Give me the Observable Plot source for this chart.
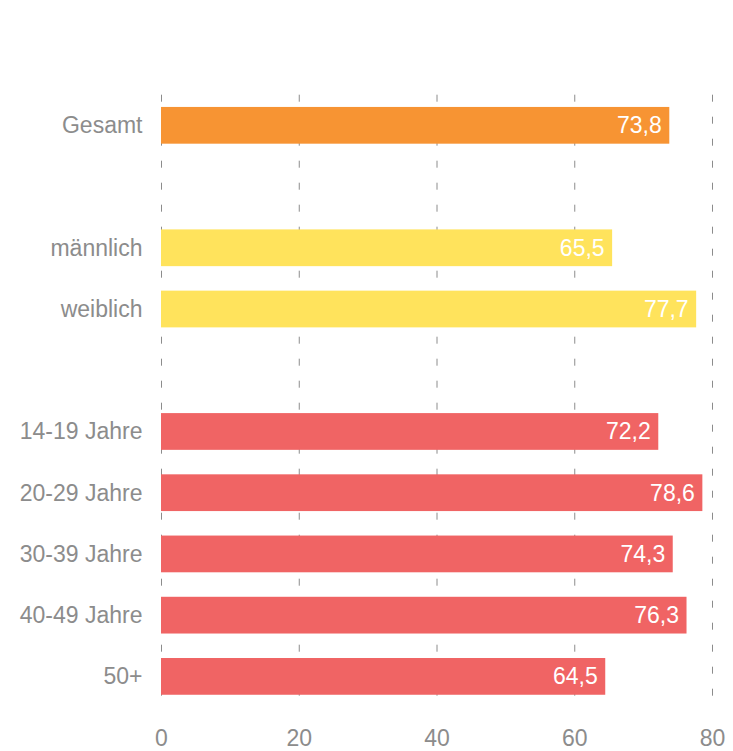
<!DOCTYPE html>
<html><head><meta charset="utf-8">
<script src="https://cdn.jsdelivr.net/npm/d3@7"></script>
<script src="https://cdn.jsdelivr.net/npm/@observablehq/plot@0.6"></script>
<style>
html,body{margin:0;padding:0;background:#fff;}
#chart svg{display:block;}
</style>
</head><body><div id="chart"></div>
<script>
const categories = ["Gesamt", "gap1", "männlich", "weiblich", "gap2", "14-19 Jahre", "20-29 Jahre", "30-39 Jahre", "40-49 Jahre", "50+"];
const barCategories = ["Gesamt", "männlich", "weiblich", "14-19 Jahre", "20-29 Jahre", "30-39 Jahre", "40-49 Jahre", "50+"];
const values = [73.8, 65.5, 77.7, 72.2, 78.6, 74.3, 76.3, 64.5];
const groups = ["gesamt", "geschlecht", "geschlecht", "alter", "alter", "alter", "alter", "alter"];
const xTicks = [0, 20, 40, 60, 80];

const data = barCategories.map((c, i) => ({cat: c, value: values[i], group: groups[i]}));
const fmt = v => v.toFixed(1).replace(".", ",");
const yFmt = d => d.startsWith("gap") ? "" : d;

const chart = Plot.plot({
  width: 733,
  height: 751,
  marginTop: 94.7,
  marginBottom: 44,
  marginLeft: 161,
  marginRight: 21,
  style: {fontFamily: "'Liberation Sans', Arial, sans-serif", fontSize: "23px", color: "#8c8c8c", overflow: "visible"},
  x: {domain: [0, 80], ticks: xTicks, label: null},
  y: {domain: categories, label: null, paddingInner: 0.4, paddingOuter: 0.2, round: false},
  color: {domain: ["gesamt", "geschlecht", "alter"], range: ["#F79433", "#FFE35C", "#F06464"]},
  marks: [
    Plot.gridX(xTicks, {stroke: "#8c8c8c", strokeOpacity: 1, strokeWidth: 1, strokeDasharray: "7,15"}),
    Plot.barX(data, {x: "value", y: "cat", fill: "group"}),
    Plot.text(data, {x: "value", y: "cat", text: d => fmt(d.value), textAnchor: "end", dx: -8, fill: "white", fontSize: 23}),
    Plot.axisX({ticks: xTicks, tickSize: 0, tickPadding: 22, fontSize: 23, label: null}),
    Plot.axisY({tickSize: 0, tickPadding: 19, fontSize: 23, label: null, tickFormat: yFmt})
  ]
});
document.getElementById("chart").appendChild(chart);
</script>
</body></html>
